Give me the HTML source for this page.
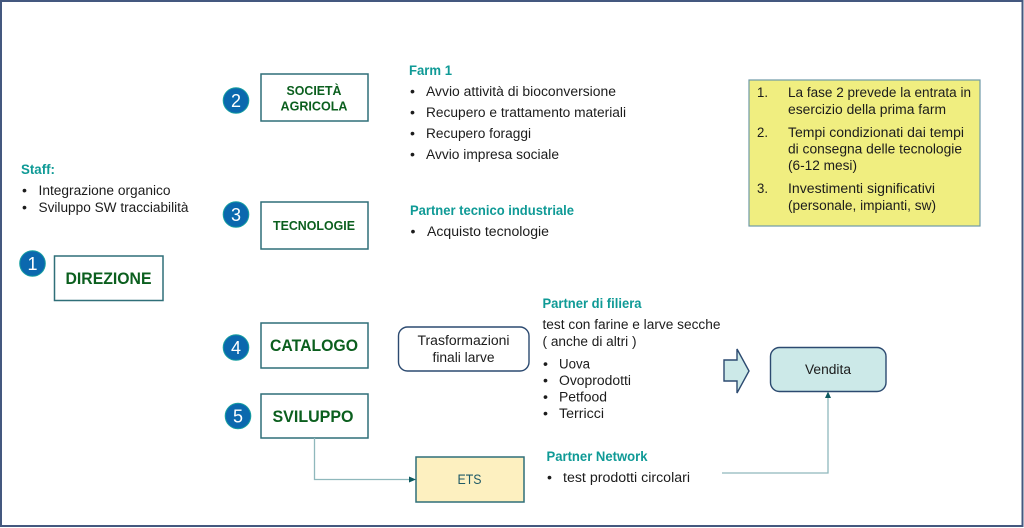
<!DOCTYPE html>
<html><head><meta charset="utf-8"><style>
html,body{margin:0;padding:0;background:#fff;width:1024px;height:528px;overflow:hidden}
svg{display:block}
text{font-family:"Liberation Sans",sans-serif;font-size:14.2px;fill:#1c1c1c}
.h{font-weight:bold;fill:#0f9a96;font-size:14px}
.g{font-weight:bold;fill:#0b5f1e;text-anchor:middle}
.n{fill:#fff;font-size:18px;text-anchor:middle;font-family:"Liberation Sans",sans-serif}
.b{fill:#fff;stroke:#2f6f78;stroke-width:1.5}
.c{fill:#0b68ae;stroke:#17a0a0;stroke-width:1}
</style></head><body>
<svg width="1024" height="528" viewBox="0 0 1024 528" xmlns="http://www.w3.org/2000/svg">
<rect x="1" y="1" width="1021.5" height="525" fill="#fff" stroke="#44587f" stroke-width="2"/>

<text class="h" x="21" y="174" textLength="34" lengthAdjust="spacingAndGlyphs">Staff:</text>
<text x="22" y="195">•</text><text x="38.5" y="195" textLength="132" lengthAdjust="spacingAndGlyphs">Integrazione organico</text>
<text x="22" y="212">•</text><text x="38.5" y="212" textLength="150" lengthAdjust="spacingAndGlyphs">Sviluppo SW tracciabilità</text>

<rect class="b" x="54.5" y="256" width="108.5" height="44.5"/>
<text class="g" x="108.5" y="284" style="font-size:16.5px" textLength="86" lengthAdjust="spacingAndGlyphs">DIREZIONE</text>
<circle class="c" cx="32.5" cy="263.5" r="12.8"/><text class="n" x="32.5" y="270">1</text>

<rect class="b" x="261" y="74" width="107" height="47"/>
<text class="g" x="314" y="95" style="font-size:12.5px" textLength="55" lengthAdjust="spacingAndGlyphs">SOCIETÀ</text>
<text class="g" x="314" y="110.5" style="font-size:12.5px" textLength="67" lengthAdjust="spacingAndGlyphs">AGRICOLA</text>
<circle class="c" cx="236" cy="100.5" r="12.8"/><text class="n" x="236" y="107">2</text>

<rect class="b" x="261" y="202" width="107" height="47"/>
<text class="g" x="314" y="230" style="font-size:12.5px" textLength="82" lengthAdjust="spacingAndGlyphs">TECNOLOGIE</text>
<circle class="c" cx="236" cy="214.5" r="12.8"/><text class="n" x="236" y="221">3</text>

<rect class="b" x="261" y="323" width="107" height="45"/>
<text class="g" x="314" y="351" style="font-size:16.5px" textLength="88" lengthAdjust="spacingAndGlyphs">CATALOGO</text>
<circle class="c" cx="236" cy="347.5" r="12.8"/><text class="n" x="236" y="354">4</text>

<rect class="b" x="261" y="394" width="107" height="44"/>
<text class="g" x="313" y="422" style="font-size:16.5px" textLength="81" lengthAdjust="spacingAndGlyphs">SVILUPPO</text>
<circle class="c" cx="238" cy="416" r="12.8"/><text class="n" x="238" y="422.5">5</text>

<text class="h" x="409" y="75" textLength="43" lengthAdjust="spacingAndGlyphs">Farm 1</text>
<text x="410" y="96">•</text><text x="426" y="96" textLength="190" lengthAdjust="spacingAndGlyphs">Avvio attività di bioconversione</text>
<text x="410" y="117">•</text><text x="426" y="117" textLength="200" lengthAdjust="spacingAndGlyphs">Recupero e trattamento materiali</text>
<text x="410" y="138">•</text><text x="426" y="138" textLength="105" lengthAdjust="spacingAndGlyphs">Recupero foraggi</text>
<text x="410" y="159">•</text><text x="426" y="159" textLength="133" lengthAdjust="spacingAndGlyphs">Avvio impresa sociale</text>

<text class="h" x="410" y="215" textLength="164" lengthAdjust="spacingAndGlyphs">Partner tecnico industriale</text>
<text x="410.5" y="236">•</text><text x="427" y="236" textLength="122" lengthAdjust="spacingAndGlyphs">Acquisto tecnologie</text>

<rect x="749" y="80" width="231" height="146" fill="#f0ee80" stroke="#6f9aa8" stroke-width="1.2"/>
<text x="757" y="97" textLength="11" lengthAdjust="spacingAndGlyphs">1.</text>
<text x="788" y="97" textLength="183" lengthAdjust="spacingAndGlyphs">La fase 2 prevede la entrata in</text>
<text x="788" y="114" textLength="158" lengthAdjust="spacingAndGlyphs">esercizio della prima farm</text>
<text x="757" y="137" textLength="11" lengthAdjust="spacingAndGlyphs">2.</text>
<text x="788" y="137" textLength="176" lengthAdjust="spacingAndGlyphs">Tempi condizionati dai tempi</text>
<text x="788" y="153.5" textLength="174" lengthAdjust="spacingAndGlyphs">di consegna delle tecnologie</text>
<text x="788" y="170" textLength="69" lengthAdjust="spacingAndGlyphs">(6-12 mesi)</text>
<text x="757" y="193" textLength="11" lengthAdjust="spacingAndGlyphs">3.</text>
<text x="788" y="193" textLength="147" lengthAdjust="spacingAndGlyphs">Investimenti significativi</text>
<text x="788" y="210" textLength="148" lengthAdjust="spacingAndGlyphs">(personale, impianti, sw)</text>

<rect x="398.5" y="327" width="130.5" height="44" rx="9" fill="#fff" stroke="#2c4a70" stroke-width="1.4"/>
<text x="463.5" y="345" text-anchor="middle" textLength="92" lengthAdjust="spacingAndGlyphs">Trasformazioni</text>
<text x="463.5" y="362" text-anchor="middle" textLength="62" lengthAdjust="spacingAndGlyphs">finali larve</text>

<text class="h" x="542.5" y="308" textLength="99" lengthAdjust="spacingAndGlyphs">Partner di filiera</text>
<text x="542.5" y="329" textLength="178" lengthAdjust="spacingAndGlyphs">test con farine e larve secche</text>
<text x="542.5" y="346" textLength="94" lengthAdjust="spacingAndGlyphs">( anche di altri )</text>
<text x="543" y="368.5">•</text><text x="559" y="368.5" textLength="31" lengthAdjust="spacingAndGlyphs">Uova</text>
<text x="543" y="385">•</text><text x="559" y="385" textLength="72" lengthAdjust="spacingAndGlyphs">Ovoprodotti</text>
<text x="543" y="401.5">•</text><text x="559" y="401.5" textLength="48" lengthAdjust="spacingAndGlyphs">Petfood</text>
<text x="543" y="418">•</text><text x="559" y="418" textLength="45" lengthAdjust="spacingAndGlyphs">Terricci</text>

<polygon points="724,360 737,360 737,349 749,371 737,393 737,381 724,381" fill="#cce9e8" stroke="#2c4a70" stroke-width="1.4"/>

<rect x="770.5" y="347.5" width="115.5" height="44" rx="9" fill="#cce9e8" stroke="#2c4a70" stroke-width="1.4"/>
<text x="828" y="374" text-anchor="middle" textLength="46" lengthAdjust="spacingAndGlyphs">Vendita</text>

<rect x="416" y="457" width="108" height="45" fill="#fdf0c0" stroke="#2f6f78" stroke-width="1.5"/>
<text x="469.5" y="484" text-anchor="middle" style="fill:#1f5a66" textLength="24" lengthAdjust="spacingAndGlyphs">ETS</text>

<text class="h" x="546.5" y="461" textLength="101" lengthAdjust="spacingAndGlyphs">Partner Network</text>
<text x="547" y="482">•</text><text x="563" y="482" textLength="127" lengthAdjust="spacingAndGlyphs">test prodotti circolari</text>

<polyline points="314.5,438 314.5,479.5 410,479.5" fill="none" stroke="#8fb8bc" stroke-width="1.3"/>
<polygon points="416,479.5 409,476.5 409,482.5" fill="#0e5a60"/>
<polyline points="722,473 828,473 828,397" fill="none" stroke="#8fb8bc" stroke-width="1.3"/>
<polygon points="828,391.5 825,398 831,398" fill="#0e5a60"/>
</svg>
</body></html>
